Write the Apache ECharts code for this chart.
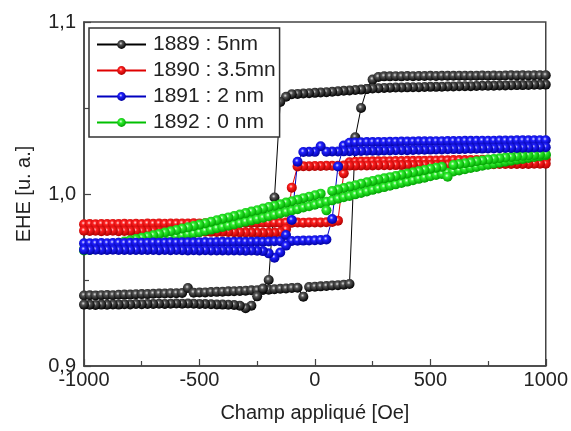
<!DOCTYPE html>
<html>
<head>
<meta charset="utf-8">
<script src="https://cdn.jsdelivr.net/npm/echarts@6/dist/echarts.min.js"></script>
<style>html,body{margin:0;padding:0;background:#fff}#c{width:571px;height:431px}</style>
</head>
<body>
<div id="c"></div>
<script>
// Applied field grid (Oe), shared by all sweeps
const FIELD = [-1000,-975,-950,-925,-900,-875,-850,-825,-800,-775,-750,-725,-700,-675,-650,-625,-600,-575,-550,-525,-500,-475,-450,-425,-400,-375,-350,-325,-300,-275,-250,-225,-200,-175,-150,-125,-100,-75,-50,-25,0,25,50,75,100,125,150,175,200,225,250,275,300,325,350,375,400,425,450,475,500,525,550,575,600,625,650,675,700,725,750,775,800,825,850,875,900,925,950,975,1000];

const SERIES_NAMES = ['1889 : 5nm', '1890 : 3.5mn', '1891 : 2 nm', '1892 : 0 nm'];
const X_TICKS = [-1000, -500, 0, 500, 1000];
const Y_TICKS = ['0,9', '1,0', '1,1'];

// 1889 : 5nm  (increasing sweep / decreasing sweep), values listed for ascending field
const S1889_UP = [0.9410,0.9411,0.9410,0.9412,0.9413,0.9412,0.9414,0.9415,0.9415,0.9417,
0.9418,0.9418,0.9420,0.9421,0.9421,0.9423,0.9423,0.9425,0.9453,0.9426,
0.9427,0.9428,0.9430,0.9431,0.9432,0.9434,0.9435,0.9436,0.9438,0.9440,
0.9441,0.9442,0.9444,0.9446,0.9449,0.9451,0.9453,0.9455,0.9403,0.9459,
0.9461,0.9463,0.9465,0.9468,0.9470,0.9473,0.9477,1.0330,1.0500,1.0610,
1.0665,1.0680,1.0684,1.0684,1.0685,1.0684,1.0686,1.0685,1.0686,1.0686,
1.0687,1.0686,1.0687,1.0688,1.0687,1.0688,1.0688,1.0687,1.0688,1.0689,
1.0688,1.0689,1.0688,1.0689,1.0690,1.0689,1.0690,1.0689,1.0690,1.0690,1.0690];
const S1889_DN = [0.9357,0.9356,0.9355,0.9357,0.9356,0.9358,0.9357,0.9359,0.9358,0.9360,
0.9359,0.9361,0.9360,0.9362,0.9361,0.9362,0.9363,0.9362,0.9363,0.9362,
0.9361,0.9360,0.9359,0.9358,0.9357,0.9356,0.9355,0.9350,0.9336,0.9350,
0.9405,0.9450,0.9500,0.9980,1.0535,1.0565,1.0580,1.0582,1.0584,1.0586,
1.0588,1.0590,1.0592,1.0594,1.0597,1.0600,1.0602,1.0605,1.0607,1.0610,
1.0613,1.0615,1.0617,1.0618,1.0619,1.0619,1.0620,1.0621,1.0621,1.0622,
1.0623,1.0623,1.0624,1.0625,1.0625,1.0626,1.0627,1.0627,1.0628,1.0629,
1.0629,1.0630,1.0631,1.0631,1.0632,1.0633,1.0633,1.0634,1.0635,1.0635,1.0636];

// 1890 : 3.5mn
const S1890_UP = [0.9824,0.9825,0.9824,0.9826,0.9825,0.9826,0.9825,0.9827,0.9826,0.9827,
0.9826,0.9828,0.9827,0.9828,0.9827,0.9829,0.9828,0.9829,0.9828,0.9830,
0.9829,0.9830,0.9829,0.9831,0.9830,0.9831,0.9830,0.9832,0.9831,0.9832,
0.9831,0.9833,0.9832,0.9833,0.9832,0.9834,0.9833,0.9834,0.9833,0.9835,
0.9834,0.9835,0.9836,0.9837,0.9845,1.0120,1.0185,1.0188,1.0189,1.0189,
1.0190,1.0190,1.0191,1.0191,1.0192,1.0192,1.0193,1.0193,1.0194,1.0194,
1.0195,1.0195,1.0196,1.0196,1.0197,1.0197,1.0197,1.0198,1.0198,1.0199,
1.0199,1.0199,1.0200,1.0200,1.0200,1.0201,1.0201,1.0201,1.0202,1.0202,1.0202];
const S1890_DN = [0.9786,0.9785,0.9786,0.9784,0.9785,0.9786,0.9784,0.9785,0.9784,0.9785,
0.9784,0.9783,0.9784,0.9783,0.9782,0.9783,0.9782,0.9781,0.9782,0.9781,
0.9780,0.9781,0.9780,0.9779,0.9780,0.9779,0.9778,0.9777,0.9776,0.9776,
0.9775,0.9774,0.9774,0.9775,0.9778,0.9795,1.0037,1.0160,1.0162,1.0162,
1.0163,1.0163,1.0164,1.0164,1.0164,1.0165,1.0165,1.0165,1.0166,1.0166,
1.0166,1.0167,1.0167,1.0167,1.0168,1.0168,1.0168,1.0169,1.0169,1.0169,
1.0170,1.0170,1.0170,1.0171,1.0171,1.0171,1.0172,1.0172,1.0172,1.0173,
1.0173,1.0173,1.0174,1.0174,1.0174,1.0175,1.0175,1.0175,1.0176,1.0176,1.0176];

// 1891 : 2 nm
const S1891_UP = [0.9713,0.9714,0.9713,0.9715,0.9714,0.9715,0.9716,0.9715,0.9716,0.9717,
0.9716,0.9717,0.9718,0.9717,0.9718,0.9719,0.9718,0.9719,0.9720,0.9719,
0.9720,0.9721,0.9720,0.9721,0.9722,0.9721,0.9722,0.9723,0.9722,0.9723,
0.9724,0.9723,0.9724,0.9725,0.9726,0.9762,0.9727,0.9728,0.9729,0.9730,
0.9731,0.9733,0.9735,0.9855,1.0160,1.0282,1.0298,1.0300,1.0301,1.0302,
1.0302,1.0303,1.0303,1.0304,1.0304,1.0305,1.0305,1.0305,1.0306,1.0306,
1.0307,1.0307,1.0307,1.0308,1.0308,1.0308,1.0309,1.0309,1.0309,1.0310,
1.0310,1.0310,1.0311,1.0311,1.0311,1.0312,1.0312,1.0312,1.0313,1.0313,1.0313];
const S1891_DN = [0.9676,0.9675,0.9676,0.9674,0.9675,0.9676,0.9674,0.9675,0.9674,0.9675,
0.9674,0.9675,0.9674,0.9673,0.9674,0.9673,0.9674,0.9673,0.9672,0.9673,
0.9672,0.9673,0.9672,0.9671,0.9672,0.9671,0.9672,0.9671,0.9670,0.9671,
0.9670,0.9668,0.9655,0.9630,0.9660,0.9700,0.9849,1.0188,1.0244,1.0245,
1.0245,1.0278,1.0246,1.0247,1.0247,1.0248,1.0249,1.0249,1.0250,1.0251,
1.0251,1.0252,1.0253,1.0253,1.0254,1.0255,1.0255,1.0256,1.0257,1.0257,
1.0258,1.0259,1.0259,1.0260,1.0261,1.0261,1.0262,1.0263,1.0263,1.0264,
1.0265,1.0265,1.0266,1.0267,1.0267,1.0268,1.0269,1.0269,1.0270,1.0271,1.0272];

// 1892 : 0 nm
const S1892_UP = [0.9672,0.9675,0.9679,0.9683,0.9686,0.9691,0.9694,0.9698,0.9703,0.9710,
0.9715,0.9721,0.9727,0.9734,0.9740,0.9746,0.9753,0.9759,0.9766,0.9771,
0.9778,0.9786,0.9793,0.9801,0.9808,0.9816,0.9823,0.9831,0.9839,0.9846,
0.9854,0.9862,0.9871,0.9879,0.9887,0.9896,0.9904,0.9912,0.9921,0.9929,
0.9937,0.9946,0.9955,0.9963,0.9972,0.9981,0.9989,0.9998,1.0006,1.0015,
1.0024,1.0032,1.0040,1.0048,1.0056,1.0064,1.0072,1.0080,1.0088,1.0095,
1.0103,1.0110,1.0117,1.0124,1.0131,1.0137,1.0144,1.0151,1.0157,1.0164,
1.0170,1.0176,1.0182,1.0188,1.0193,1.0199,1.0204,1.0210,1.0215,1.0220,1.0225];
const S1892_DN = [0.9678,0.9684,0.9690,0.9697,0.9703,0.9710,0.9717,0.9724,0.9731,0.9738,
0.9745,0.9753,0.9760,0.9768,0.9776,0.9783,0.9791,0.9799,0.9806,0.9814,
0.9822,0.9830,0.9839,0.9847,0.9856,0.9864,0.9872,0.9881,0.9889,0.9898,
0.9906,0.9915,0.9924,0.9932,0.9941,0.9950,0.9958,0.9967,0.9976,0.9984,
0.9993,1.0002,0.9905,1.0018,1.0026,1.0035,1.0043,1.0051,1.0060,1.0068,
1.0076,1.0084,1.0091,1.0098,1.0105,1.0112,1.0119,1.0126,1.0133,1.0140,
1.0147,1.0153,1.0158,1.0100,1.0169,1.0174,1.0179,1.0184,1.0190,1.0195,
1.0200,1.0204,1.0208,1.0212,1.0215,1.0219,1.0222,1.0225,1.0227,1.0229,1.0231];

function loop(up, dn) {
  const a = FIELD.map((x, i) => [x, up[i]]);
  const b = FIELD.map((x, i) => [x, dn[i]]).reverse();
  return a.concat(b);
}
function ball(base, light, dark) {
  return {
    type: 'radial', x: 0.42, y: 0.38, r: 0.62,
    colorStops: [
      {offset: 0, color: light},
      {offset: 0.3, color: base},
      {offset: 1, color: dark}
    ]
  };
}
const FONT = 'Liberation Sans, Arial, sans-serif';
function mk(name, up, dn, line, light, base, dark) {
  return {
    name: name, type: 'line', data: loop(up, dn),
    symbol: 'circle', symbolSize: 10, showAllSymbol: true,
    lineStyle: {width: 1, color: line},
    itemStyle: {color: ball(base, light, dark), borderWidth: 0},
    emphasis: {disabled: true}
  };
}

const chart = echarts.init(document.getElementById('c'), null, {renderer: 'canvas'});
const axisColor = '#444';
chart.setOption({
  animation: false,
  backgroundColor: '#fff',
  grid: {left: 84, right: 25, top: 22, bottom: 65, show: true, borderColor: axisColor, borderWidth: 1.5, backgroundColor: 'transparent'},
  legend: {
    data: SERIES_NAMES, orient: 'vertical', left: 89, top: 28,
    itemWidth: 49, itemHeight: 11, itemGap: 5,
    padding: [6, 4, 4, 7],
    backgroundColor: '#fff', borderColor: '#333', borderWidth: 1.5,
    textStyle: {fontFamily: FONT, fontSize: 21, color: '#222', padding: [0, 0, 0, 2]}
  },
  xAxis: {
    type: 'value', min: -1000, max: 1000, interval: 500,
    name: 'Champ appliqué [Oe]', nameLocation: 'middle', nameGap: 37,
    nameTextStyle: {fontFamily: FONT, fontSize: 20, color: '#222'},
    axisLine: {onZero: false, lineStyle: {color: axisColor, width: 1.5}},
    axisTick: {inside: true, length: 7, lineStyle: {color: axisColor, width: 1.2}},
    minorTick: {show: true, splitNumber: 2, length: 5, lineStyle: {color: axisColor, width: 1.2}},
    axisLabel: {fontFamily: FONT, fontSize: 20, color: '#222', margin: 4,
      formatter: v => X_TICKS.indexOf(v) >= 0 ? String(v) : ''},
    splitLine: {show: false}
  },
  yAxis: {
    type: 'value', min: 0.9, max: 1.1, interval: 0.1,
    name: 'EHE [u. a.]', nameLocation: 'middle', nameGap: 50,
    nameTextStyle: {fontFamily: FONT, fontSize: 20, color: '#222'},
    axisLine: {onZero: false, lineStyle: {color: axisColor, width: 1.5}},
    axisTick: {inside: true, length: 7, lineStyle: {color: axisColor, width: 1.2}},
    minorTick: {show: true, splitNumber: 2, length: 5, lineStyle: {color: axisColor, width: 1.2}},
    axisLabel: {fontFamily: FONT, fontSize: 20, color: '#222', margin: 8,
      formatter: v => Y_TICKS[Math.round((v - 0.9) * 10)] || ''},
    splitLine: {show: false}
  },
  series: [
    mk(SERIES_NAMES[0], S1889_UP, S1889_DN, '#000', '#e0e0e0', '#555', '#000'),
    mk(SERIES_NAMES[1], S1890_UP, S1890_DN, '#e00000', '#ffe0e0', '#ff2020', '#b00000'),
    mk(SERIES_NAMES[3], S1892_UP, S1892_DN, '#00c000', '#e8ffe8', '#30f030', '#00a000'),
    mk(SERIES_NAMES[2], S1891_UP, S1891_DN, '#0000c0', '#e0e0ff', '#2020ff', '#0000a0')
  ]
});
</script>
</body>
</html>
